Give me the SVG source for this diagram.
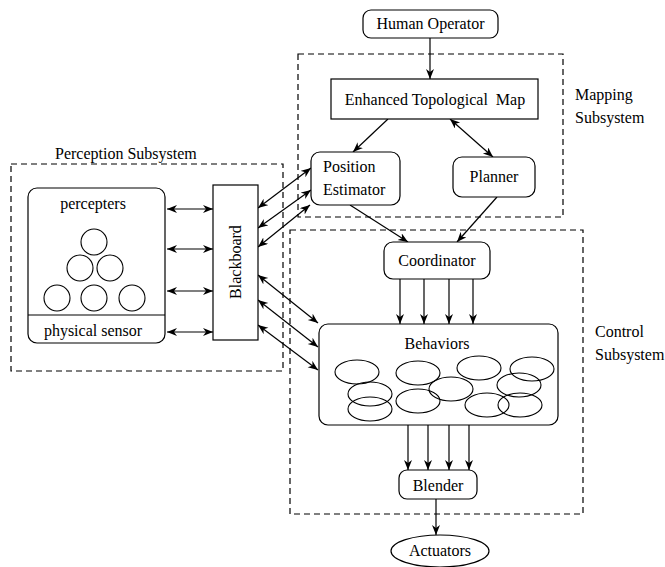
<svg xmlns="http://www.w3.org/2000/svg" width="665" height="567" viewBox="0 0 665 567">
<style>
text{font-family:'Liberation Serif','Times New Roman','DejaVu Serif',serif;font-size:16px;fill:#000}
.box{fill:#fff;stroke:#000;stroke-width:1.2}
.dash{fill:none;stroke:#000;stroke-width:1.2;stroke-dasharray:6,4}
.ln{fill:none;stroke:#000;stroke-width:1.2}
.a{fill:none;stroke:#000;stroke-width:1.2;marker-end:url(#ah)}
.aa{fill:none;stroke:#000;stroke-width:1.2;marker-end:url(#ah);marker-start:url(#ah)}
.ell{fill:none;stroke:#000;stroke-width:1.1}
</style>
<defs>
<marker id="ah" markerUnits="userSpaceOnUse" markerWidth="12" markerHeight="10" refX="10" refY="4" orient="auto-start-reverse">
<path d="M0,0 L10,4 L0,8 L3,4 z" fill="#000" stroke="none"/>
</marker>
</defs>

<g id="subsystems" font-family="Liberation Serif, serif">
<rect class="dash" x="11" y="164" width="272" height="207"/>
<text x="55" y="159">Perception Subsystem</text>
<rect class="dash" x="298" y="54" width="265" height="163"/>
<text x="575" y="100">Mapping</text>
<text x="575" y="123">Subsystem</text>
<rect class="dash" x="290" y="230" width="293" height="284"/>
<text x="595" y="337">Control</text>
<text x="595" y="360">Subsystem</text>
</g>

<g id="connectors">
<line class="a" x1="430" y1="38" x2="430" y2="79"/>
<line class="a" x1="388" y1="119" x2="353" y2="152"/>
<line class="aa" x1="450" y1="119" x2="493" y2="157"/>
<line class="a" x1="350" y1="205" x2="408" y2="242"/>
<line class="a" x1="497" y1="197" x2="457" y2="242"/>
<line class="a" x1="400" y1="279" x2="400" y2="324"/>
<line class="a" x1="424" y1="279" x2="424" y2="324"/>
<line class="a" x1="449" y1="279" x2="449" y2="324"/>
<line class="a" x1="473" y1="279" x2="473" y2="324"/>
<line class="a" x1="408" y1="425" x2="408" y2="470"/>
<line class="a" x1="428" y1="425" x2="428" y2="470"/>
<line class="a" x1="449" y1="425" x2="449" y2="470"/>
<line class="a" x1="469" y1="425" x2="469" y2="470"/>
<line class="a" x1="436" y1="499" x2="436" y2="535"/>
<line class="aa" x1="167" y1="209" x2="213" y2="209"/>
<line class="aa" x1="167" y1="249" x2="213" y2="249"/>
<line class="aa" x1="167" y1="291" x2="213" y2="291"/>
<line class="aa" x1="167" y1="332" x2="213" y2="332"/>
<line class="aa" x1="258" y1="208" x2="311" y2="168"/>
<line class="aa" x1="258" y1="228" x2="311" y2="190"/>
<line class="aa" x1="258" y1="247" x2="310" y2="205"/>
<line class="aa" x1="258" y1="275" x2="318" y2="323"/>
<line class="aa" x1="258" y1="300" x2="318" y2="347"/>
<line class="aa" x1="258" y1="325" x2="318" y2="370"/>
</g>

<g id="human-operator">
<rect class="box" x="363" y="10" width="135" height="28" rx="8"/>
<text x="430.5" y="29" text-anchor="middle">Human Operator</text>
</g>

<g id="topological-map">
<rect class="box" x="331" y="79" width="207" height="40"/>
<text x="435" y="105" text-anchor="middle" xml:space="preserve">Enhanced Topological  Map</text>
</g>

<g id="position-estimator">
<rect class="box" x="311" y="152" width="89" height="53" rx="9"/>
<text x="323" y="172">Position</text>
<text x="323" y="195">Estimator</text>
</g>

<g id="planner">
<rect class="box" x="453" y="157" width="82" height="40" rx="9"/>
<text x="494" y="182" text-anchor="middle">Planner</text>
</g>

<g id="coordinator">
<rect class="box" x="384" y="242" width="106" height="37" rx="9"/>
<text x="437" y="266" text-anchor="middle">Coordinator</text>
</g>

<g id="behaviors">
<rect class="box" x="319" y="324" width="239" height="101" rx="9"/>
<text x="437" y="349" text-anchor="middle">Behaviors</text>
<ellipse class="ell" cx="357" cy="372" rx="22" ry="12"/>
<ellipse class="ell" cx="370" cy="394" rx="22" ry="12"/>
<ellipse class="ell" cx="370" cy="409" rx="22" ry="12"/>
<ellipse class="ell" cx="418" cy="373" rx="22" ry="12"/>
<ellipse class="ell" cx="418" cy="401" rx="22" ry="12"/>
<ellipse class="ell" cx="451" cy="389" rx="22" ry="12"/>
<ellipse class="ell" cx="479" cy="368" rx="22" ry="12"/>
<ellipse class="ell" cx="532" cy="369" rx="22" ry="12"/>
<ellipse class="ell" cx="519" cy="385" rx="22" ry="12"/>
<ellipse class="ell" cx="487" cy="405" rx="22" ry="12"/>
<ellipse class="ell" cx="520" cy="405" rx="22" ry="12"/>
</g>

<g id="blender">
<rect class="box" x="399" y="470" width="78" height="29" rx="8"/>
<text x="438" y="491" text-anchor="middle">Blender</text>
</g>

<g id="actuators">
<ellipse class="box" cx="440" cy="551" rx="49" ry="16"/>
<text x="440" y="556" text-anchor="middle">Actuators</text>
</g>

<g id="percepters">
<rect class="box" x="28" y="188" width="137" height="155" rx="9"/>
<line class="ln" x1="28" y1="315" x2="165" y2="315"/>
<text x="93" y="209" text-anchor="middle">percepters</text>
<text x="93" y="336" text-anchor="middle">physical sensor</text>
<circle class="ell" cx="94" cy="242" r="13"/>
<circle class="ell" cx="80" cy="268" r="13"/>
<circle class="ell" cx="110" cy="268" r="13"/>
<circle class="ell" cx="57" cy="298" r="13"/>
<circle class="ell" cx="94" cy="298" r="13"/>
<circle class="ell" cx="132" cy="298" r="13"/>
</g>

<g id="blackboard">
<rect class="box" x="213" y="185" width="45" height="155"/>
<text x="0" y="0" text-anchor="middle" transform="translate(241,262) rotate(-90)">Blackboard</text>
</g>
</svg>
